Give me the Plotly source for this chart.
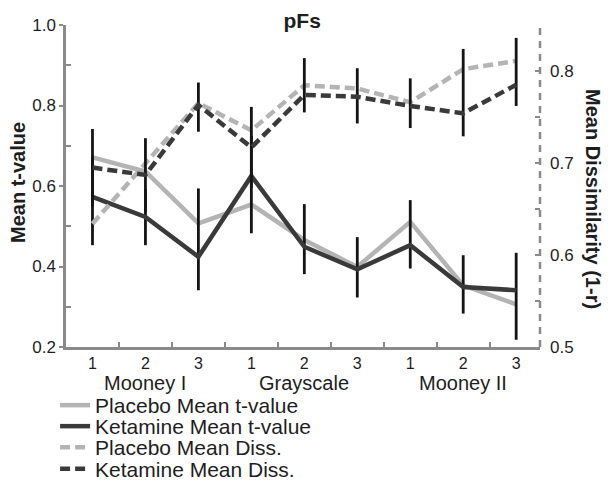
import plotly.graph_objects as go

# ---- data ----
x_pos = [1, 2, 3, 4, 5, 6, 7, 8, 9]
tick_text = ["1", "2", "3", "1", "2", "3", "1", "2", "3"]
groups = ["Mooney I", "Grayscale", "Mooney II"]
group_centers = [2, 5, 8]

placebo_t = [0.671, 0.636, 0.507, 0.554, 0.466, 0.399, 0.511, 0.353, 0.306]
ketamine_t = [0.573, 0.523, 0.424, 0.625, 0.449, 0.393, 0.453, 0.349, 0.341]
ketamine_t_err_up = [0.10, 0.07, 0.170, 0.10, 0.106, 0.080, 0.112, 0.079, 0.093]
ketamine_t_err_dn = [0.12, 0.07, 0.083, 0.1425, 0.068, 0.070, 0.058, 0.066, 0.123]

placebo_d = [0.634, 0.699, 0.765, 0.7355, 0.7845, 0.781, 0.766, 0.802, 0.811]
ketamine_d = [0.695, 0.687, 0.763, 0.717, 0.774, 0.772, 0.762, 0.754, 0.785]
ketamine_d_err_up = [0.042, 0.040, 0.0245, 0.044, 0.040, 0.031, 0.030, 0.070, 0.051]
ketamine_d_err_dn = [0.042, 0.040, 0.029, 0.044, 0.019, 0.029, 0.024, 0.025, 0.023]

LIGHT = "#b4b4b4"
DARK = "#3a3a3a"
BAR = "#141414"
AXIS = "#8a8a8a"
TXT = "#1e1e1e"
FONT = "Liberation Sans, Arial, sans-serif"

# plot area in pixels: x 66..540, y 25..347
PT, PB = 25, 347


def py(ypix):
    return (PB - ypix) / (PB - PT)


fig = go.Figure()

fig.add_trace(go.Scatter(
    x=x_pos, y=placebo_t, mode="lines", name="Placebo Mean t-value",
    line=dict(color=LIGHT, width=4.5), legend="legend", yaxis="y"))
fig.add_trace(go.Scatter(
    x=x_pos, y=ketamine_t, mode="lines", name="Ketamine Mean t-value",
    line=dict(color=DARK, width=4.5), legend="legend2", yaxis="y",
    error_y=dict(type="data", symmetric=False, array=ketamine_t_err_up,
                 arrayminus=ketamine_t_err_dn, color=BAR, thickness=2.8, width=0)))
fig.add_trace(go.Scatter(
    x=x_pos, y=placebo_d, mode="lines", name="Placebo Mean Diss.",
    line=dict(color=LIGHT, width=4.5, dash="10px,5px"), legend="legend3", yaxis="y2"))
fig.add_trace(go.Scatter(
    x=x_pos, y=ketamine_d, mode="lines", name="Ketamine Mean Diss.",
    line=dict(color=DARK, width=4.5, dash="10px,5px"), legend="legend4", yaxis="y2",
    error_y=dict(type="data", symmetric=False, array=ketamine_d_err_up,
                 arrayminus=ketamine_d_err_dn, color=BAR, thickness=2.8, width=0)))

leg_common = dict(x=-0.023, xanchor="left", yanchor="middle",
                  font=dict(size=21, color=TXT, family=FONT), bgcolor="rgba(0,0,0,0)")
row_centers = [405.5, 426.5, 447.5, 469.0]

fig.update_layout(
    width=608, height=483,
    margin=dict(l=66, r=68, t=25, b=136, autoexpand=False),
    paper_bgcolor="white", plot_bgcolor="white",
    font=dict(family=FONT, size=17, color=TXT),
    title=dict(text="<b>pFs</b>", x=0.497, xanchor="center", y=1 - 21 / 483,
               yanchor="middle", font=dict(size=21, color=TXT)),
    showlegend=True,
    legend=dict(y=py(row_centers[0]), **leg_common),
    legend2=dict(y=py(row_centers[1]), **leg_common),
    legend3=dict(y=py(row_centers[2]), **leg_common),
    legend4=dict(y=py(row_centers[3]), **leg_common),
    xaxis=dict(range=[0.5, 9.45], tickmode="array", tickvals=x_pos, ticktext=tick_text,
               ticks="", showgrid=False, zeroline=False, showline=True,
               linecolor=AXIS, linewidth=2.5, ticklabelstandoff=0,
               tickfont=dict(size=16, color=TXT),
               minor=dict(tickmode="array", tickvals=[1.5, 2.5, 3.5, 4.5, 5.5, 6.5, 7.5, 8.5],
                          ticks="inside", ticklen=5, tickcolor=AXIS, tickwidth=2, showgrid=False)),
    xaxis2=dict(range=[0.5, 9.45], overlaying="x", anchor="y", side="bottom",
                tickmode="array", tickvals=[3.5, 6.5], ticks="outside", ticklen=7,
                tickcolor=AXIS, tickwidth=2, showticklabels=False, showgrid=False,
                zeroline=False, showline=False),
    yaxis=dict(range=[0.2, 1.0], tickmode="array", tickvals=[0.2, 0.4, 0.6, 0.8, 1.0],
               tickformat=".1f", ticks="outside", ticklen=4, tickcolor=AXIS, tickwidth=2,
               showgrid=False, zeroline=False, showline=True, linecolor=AXIS, linewidth=2.5,
               tickfont=dict(size=17, color=TXT), ticklabelstandoff=0,
               minor=dict(tickmode="array", tickvals=[0.3, 0.5, 0.7, 0.9], ticks="inside",
                          ticklen=5, tickcolor=AXIS, tickwidth=2, showgrid=False)),
    yaxis2=dict(range=[0.5, 0.85], overlaying="y", side="right", anchor="x",
                tickmode="array", tickvals=[0.5, 0.6, 0.7, 0.8], tickformat=".1f",
                ticks="inside", ticklen=5, tickcolor=AXIS, tickwidth=2,
                showgrid=False, zeroline=False, showline=False, ticklabelstandoff=9,
                tickfont=dict(size=17, color=TXT),
                minor=dict(tickmode="array", tickvals=[0.55, 0.65, 0.75, 0.85], ticks="inside",
                           ticklen=5, tickcolor=AXIS, tickwidth=2, showgrid=False)),
    shapes=[dict(type="line", xref="paper", yref="paper", x0=1, x1=1, y0=0, y1=1,
                 line=dict(color=AXIS, width=2.5, dash="7px,6px"))],
)

annotations = []
for g, c in zip(groups, group_centers):
    annotations.append(dict(x=c, y=py(383), xref="x", yref="paper", text=g,
                            showarrow=False, xanchor="center", yanchor="middle",
                            font=dict(size=20, color=TXT)))
annotations.append(dict(x=(18 - 66) / 474, y=py(183), xref="paper", yref="paper",
                        text="<b>Mean t-value</b>", textangle=-90, showarrow=False,
                        xanchor="center", yanchor="middle",
                        font=dict(size=20, color=TXT)))
annotations.append(dict(x=(593 - 66) / 474, y=py(199), xref="paper", yref="paper",
                        text="<b>Mean Dissimilarity (1-r)</b>", textangle=90, showarrow=False,
                        xanchor="center", yanchor="middle",
                        font=dict(size=20, color=TXT)))
fig.update_layout(annotations=annotations)

fig.write_html("out.html")
